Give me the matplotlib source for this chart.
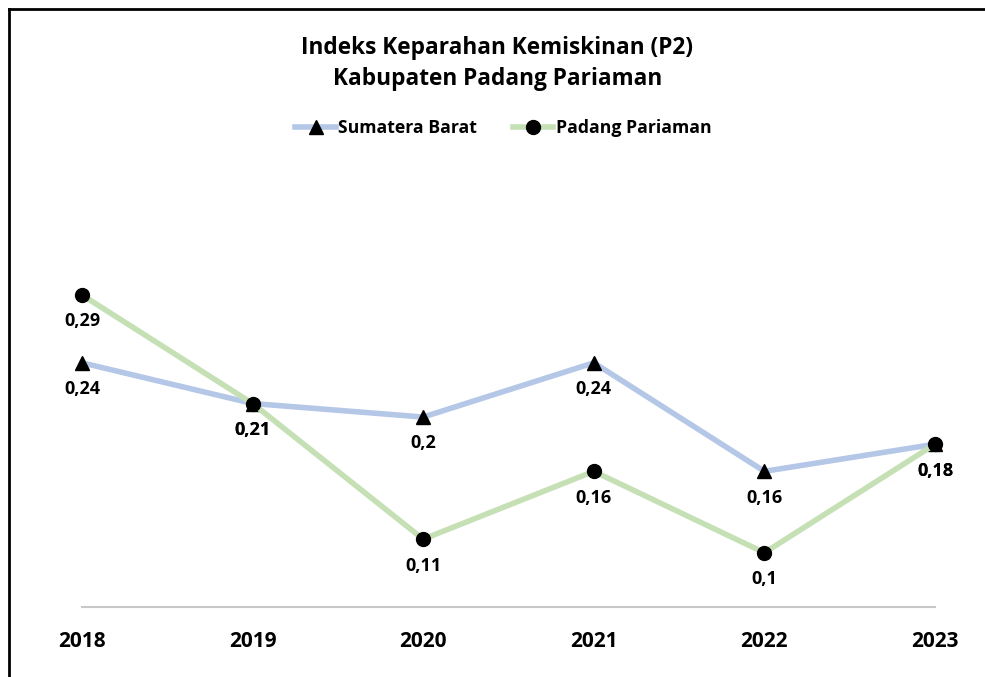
import matplotlib.pyplot as plt
from matplotlib.lines import Line2D

years = ['2018', '2019', '2020', '2021', '2022', '2023']
sumbar = [0.24, 0.21, 0.2, 0.24, 0.16, 0.18]
padang = [0.29, 0.21, 0.11, 0.16, 0.1, 0.18]

plt.rcParams['font.family'] = ['Open Sans', 'DejaVu Sans']
plt.rcParams['font.weight'] = 'bold'

fig = plt.figure(figsize=(9.85, 6.77), dpi=100)
ax = fig.add_axes([82 / 985, 70 / 677, (935 - 82) / 985, 407 / 677])

x = list(range(len(years)))
ax.plot(x, sumbar, color='#b4c7e7', lw=4, marker='^', markersize=10,
        markerfacecolor='black', markeredgecolor='black', clip_on=False,
        label='Sumatera Barat', zorder=3)
ax.plot(x, padang, color='#c5e0b4', lw=4, marker='o', markersize=10,
        markerfacecolor='black', markeredgecolor='black', clip_on=False,
        label='Padang Pariaman', zorder=3)

# data labels below each point
for xs, ys in [(x, sumbar), (x, padang)]:
    for xi, yi in zip(xs, ys):
        txt = f'{yi:g}'.replace('.', ',')
        ax.annotate(txt, (xi, yi), xytext=(0, -19), textcoords='offset points',
                    ha='center', va='center', fontsize=13, fontweight='bold')

ax.set_xlim(0, 5)
ax.set_ylim(0.06, 0.36)
ax.set_xticks(x)
ax.set_xticklabels(years, fontsize=15, fontweight='bold')
ax.tick_params(axis='x', length=0, pad=17)
ax.set_yticks([])
for s in ['top', 'right', 'left']:
    ax.spines[s].set_visible(False)
ax.spines['bottom'].set_color('#c8c8c8')
ax.spines['bottom'].set_linewidth(1.5)

fig.text(0.505, 0.906, 'Indeks Keparahan Kemiskinan (P2)\nKabupaten Padang Pariaman',
         ha='center', va='center', fontsize=16.3, fontweight='bold',
         linespacing=1.35)

fig.legend(loc='center', bbox_to_anchor=(0.511, 0.811), ncol=2, frameon=False,
           fontsize=12.7, handlelength=2.3, columnspacing=2.0, handletextpad=0.15)

# frame (left and top edges only are visible)
fig.add_artist(Line2D([9 / 985, 9 / 985], [0, 1 - 9 / 677], color='black', lw=2,
                      transform=fig.transFigure))
fig.add_artist(Line2D([9 / 985, 1], [1 - 9 / 677, 1 - 9 / 677], color='black', lw=2,
                      transform=fig.transFigure))

plt.savefig('out.png', dpi=100)
